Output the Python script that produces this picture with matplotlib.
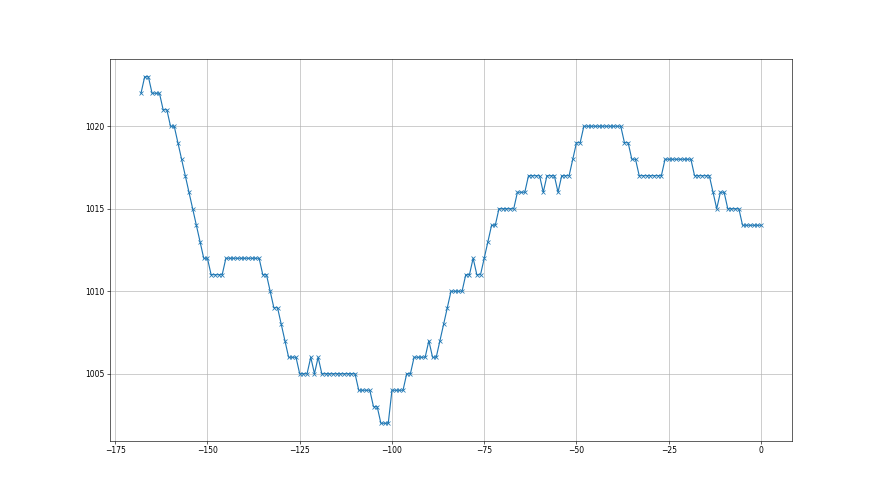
import numpy as np
import matplotlib
matplotlib.use("Agg")
import matplotlib.pyplot as plt

# hours relative to now, one reading per hour
hours = np.arange(-168, 1)

# pressure readings (hPa), read hour by hour from -168 to 0
pressure = [
    1022, 1023, 1023, 1022, 1022, 1022, 1021, 1021, 1020, 1020,
    1019, 1018, 1017, 1016, 1015, 1014, 1013, 1012, 1012,
    1011, 1011, 1011, 1011,
    1012, 1012, 1012, 1012, 1012, 1012, 1012, 1012, 1012, 1012,
    1011, 1011, 1010, 1009, 1009, 1008, 1007,
    1006, 1006, 1006, 1005, 1005, 1005, 1006, 1005, 1006,
    1005, 1005, 1005, 1005, 1005, 1005, 1005, 1005, 1005, 1005,
    1004, 1004, 1004, 1004, 1003, 1003, 1002, 1002, 1002,
    1004, 1004, 1004, 1004, 1005, 1005,
    1006, 1006, 1006, 1006, 1007, 1006, 1006, 1007, 1008, 1009,
    1010, 1010, 1010, 1010, 1011, 1011, 1012, 1011, 1011, 1012,
    1013, 1014, 1014,
    1015, 1015, 1015, 1015, 1015, 1016, 1016, 1016,
    1017, 1017, 1017, 1017, 1016, 1017, 1017, 1017, 1016,
    1017, 1017, 1017, 1018, 1019, 1019,
    1020, 1020, 1020, 1020, 1020, 1020, 1020, 1020, 1020, 1020, 1020,
    1019, 1019, 1018, 1018,
    1017, 1017, 1017, 1017, 1017, 1017, 1017,
    1018, 1018, 1018, 1018, 1018, 1018, 1018, 1018,
    1017, 1017, 1017, 1017, 1017, 1016, 1015, 1016, 1016,
    1015, 1015, 1015, 1015,
    1014, 1014, 1014, 1014, 1014, 1014,
]

fig = plt.figure(figsize=(16, 9), dpi=55)
plt.plot(hours, pressure, marker="x")
plt.grid()

fig.savefig("out.png", dpi=55)
